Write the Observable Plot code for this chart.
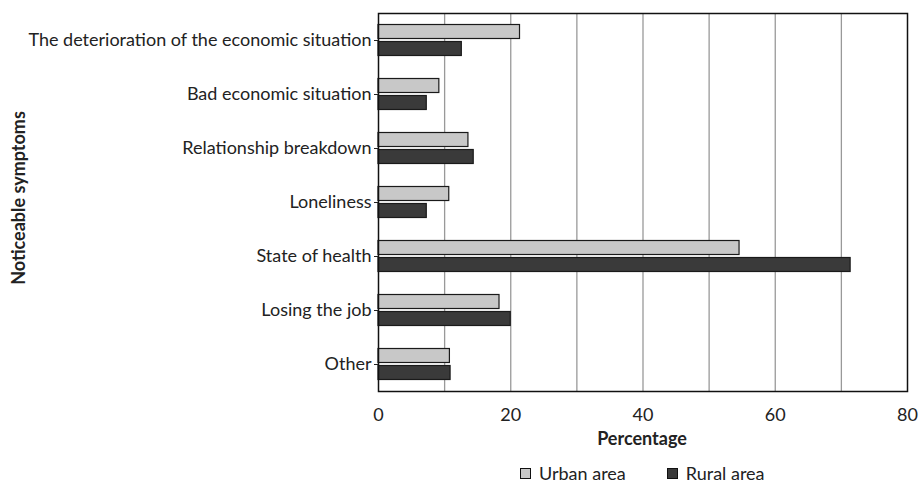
<!DOCTYPE html>
<html><head><meta charset="utf-8">
<script src="https://cdn.jsdelivr.net/npm/d3@7"></script>
<script src="https://cdn.jsdelivr.net/npm/@observablehq/plot@0.6"></script>
<style>
body{margin:0;background:#fff;font-family:Lato,sans-serif;color:#222}
#wrap{position:relative;width:921px;height:483px;overflow:hidden}
#legend{position:absolute;left:520px;top:464px;display:flex;gap:41px;font-size:18px;line-height:19px}
#legend .item{display:flex;align-items:center}
#legend span.sw{display:inline-block;box-sizing:border-box;width:11px;height:11px;border:1px solid #111;margin-right:8px}
#xlabel{position:absolute;left:542px;width:200px;top:427px;text-align:center;font-weight:bold;font-size:18px;line-height:22px}
#ylabel{position:absolute;left:-82px;top:187px;width:200px;height:22px;line-height:22px;text-align:center;font-weight:bold;font-size:18px;transform:rotate(-90deg)}
</style>
</head><body><div id="wrap"><div id="chart"></div><div id="xlabel"></div><div id="ylabel"></div><div id="legend"></div></div><script>
const categories = [
  "The deterioration of the economic situation",
  "Bad economic situation",
  "Relationship breakdown",
  "Loneliness",
  "State of health",
  "Losing the job",
  "Other"
];
const urban = [21.4, 9.2, 13.6, 10.7, 54.6, 18.3, 10.8];
const rural = [12.6, 7.3, 14.4, 7.3, 71.4, 20.0, 10.9];
const seriesNames = ["Urban area", "Rural area"];
const seriesColors = ["#c8c8c8", "#3a3a3a"];
const xTicks = [0, 20, 40, 60, 80];
const gridTicks = [10, 20, 30, 40, 50, 60, 70];
const xTitle = "Percentage";
const yTitle = "Noticeable symptoms";

const urbanData = categories.map((c, i) => ({cat: c, value: urban[i]}));
const ruralData = categories.map((c, i) => ({cat: c, value: rural[i]}));

const chart = Plot.plot({
  width: 921,
  height: 455,
  marginTop: 13,
  marginBottom: 64,
  marginLeft: 378,
  marginRight: 14,
  style: {fontFamily: "Lato, sans-serif", fontSize: "18px", color: "#222", background: "#fff"},
  x: {domain: [0, 80]},
  y: {domain: categories, padding: 0},
  marks: [
    Plot.ruleX(gridTicks, {stroke: "#999", strokeWidth: 1.3}),
    Plot.barX(urbanData, {y: "cat", x: "value", fill: seriesColors[0], stroke: "#1a1a1a", strokeWidth: 1.2, insetTop: 20, insetBottom: 20, dy: -8.5}),
    Plot.barX(ruralData, {y: "cat", x: "value", fill: seriesColors[1], stroke: "#1a1a1a", strokeWidth: 1.2, insetTop: 20, insetBottom: 20, dy: 8.5}),
    Plot.frame({stroke: "#111", strokeWidth: 1.5}),
    Plot.axisX({ticks: xTicks, tickSize: 0, tickPadding: 17, label: null, fontSize: 18}),
    Plot.axisY({tickSize: 4, tickPadding: 3, label: null, fontSize: 18})
  ]
});
document.getElementById("chart").append(chart);
document.getElementById("xlabel").textContent = xTitle;
document.getElementById("ylabel").textContent = yTitle;

const lg = d3.select("#legend");
seriesNames.forEach((n, i) => {
  const d = lg.append("div").attr("class", "item");
  d.append("span").attr("class", "sw").style("background", seriesColors[i]);
  d.append("span").text(n);
});
</script></body></html>
